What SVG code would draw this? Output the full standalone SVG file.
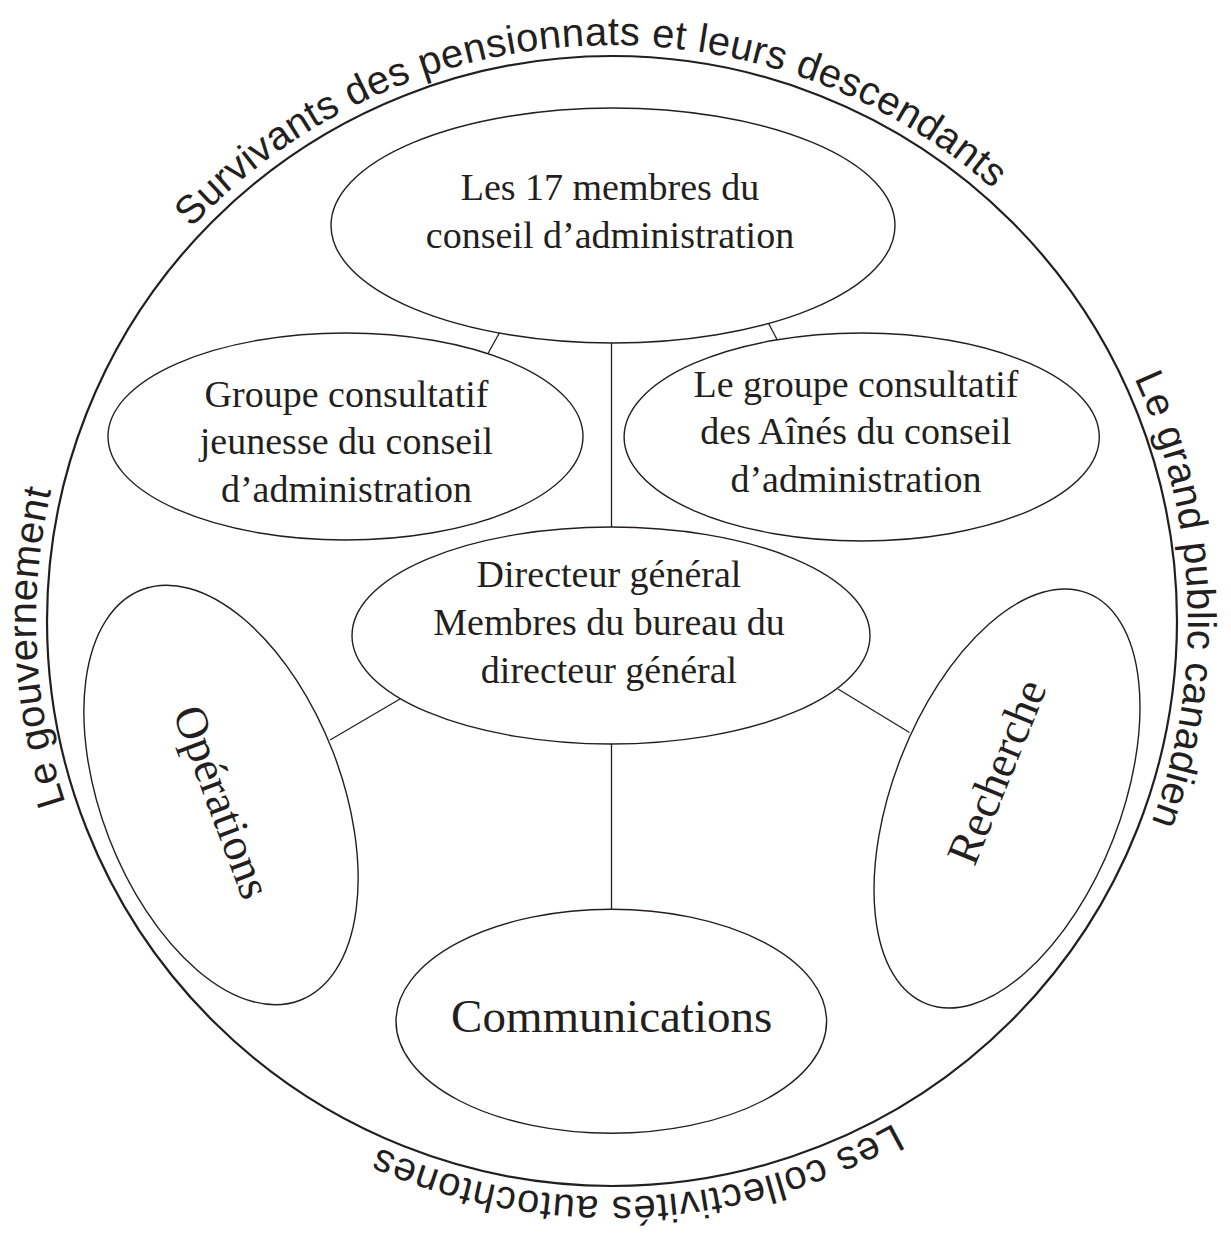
<svg xmlns="http://www.w3.org/2000/svg" width="1231" height="1233" viewBox="0 0 1231 1233">
<style>
.node ellipse{fill:none;stroke:#231f20;stroke-width:1.4}
.lbl{font-family:"Liberation Serif","Times New Roman",serif;font-size:38px;fill:#231f20;text-anchor:middle}
.big{font-size:46px}
.comm{font-size:47px}
.ring{font-family:"Liberation Sans",Arial,sans-serif;font-size:40px;fill:#231f20;letter-spacing:0.4px;text-anchor:middle}
.conn line{stroke:#231f20;stroke-width:1.3}
</style>
<defs>
<path id="ringPath" d="M 204.7 1028.3 A 576 576 0 0 1 1019.3 213.7 A 576 576 0 0 1 204.7 1028.3" fill="none"/>
</defs>
<rect width="1231" height="1233" fill="#ffffff"/>
<g id="outer">
<circle cx="612" cy="621" r="565" fill="none" stroke="#231f20" stroke-width="2.2"/>
<text class="ring"><textPath href="#ringPath" startOffset="426">Le gouvernement</textPath></text>
<text class="ring"><textPath href="#ringPath" startOffset="1329">Survivants des pensionnats et leurs descendants</textPath></text>
<text class="ring"><textPath href="#ringPath" startOffset="2239">Le grand public canadien</textPath></text>
<text class="ring" style="letter-spacing:0.9px"><textPath href="#ringPath" startOffset="3139">Les collectivités autochtones</textPath></text>
</g>
<g id="connectors" class="conn">
<line x1="499.6" y1="332.5" x2="488" y2="353.5"/>
<line x1="768.7" y1="323.8" x2="777.3" y2="340"/>
<line x1="611.5" y1="343" x2="611.5" y2="527"/>
<line x1="400" y1="699" x2="330" y2="740"/>
<line x1="838" y1="689" x2="909.5" y2="732.5"/>
<line x1="611.5" y1="744" x2="611.5" y2="909.5"/>
</g>
<g id="conseil" class="node">
<ellipse cx="613" cy="225.5" rx="282" ry="117.5"/>
<text class="lbl" x="610" y="200">Les 17 membres du</text>
<text class="lbl" x="610" y="248">conseil d’administration</text>
</g>
<g id="jeunesse" class="node">
<ellipse cx="345.5" cy="436.5" rx="237.5" ry="103.5"/>
<text class="lbl" x="346.5" y="406.5">Groupe consultatif</text>
<text class="lbl" x="346.5" y="454">jeunesse du conseil</text>
<text class="lbl" x="346.5" y="501.5">d’administration</text>
</g>
<g id="aines" class="node">
<ellipse cx="861.7" cy="437" rx="237.6" ry="104"/>
<text class="lbl" x="856" y="396.5">Le groupe consultatif</text>
<text class="lbl" x="856" y="444">des Aînés du conseil</text>
<text class="lbl" x="856" y="491.5">d’administration</text>
</g>
<g id="directeur" class="node">
<ellipse cx="611" cy="635.5" rx="259" ry="108.5"/>
<text class="lbl" x="609" y="587">Directeur général</text>
<text class="lbl" x="609" y="635">Membres du bureau du</text>
<text class="lbl" x="609" y="683">directeur général</text>
</g>
<g id="operations" class="node">
<ellipse cx="0" cy="0" rx="220" ry="120" transform="translate(221 795) rotate(68.9)"/>
<text class="lbl big" x="0" y="15" transform="translate(222 802) rotate(69.5)">Opérations</text>
</g>
<g id="recherche" class="node">
<ellipse cx="0" cy="0" rx="220.6" ry="113.7" transform="translate(1007 798.5) rotate(-68.6)"/>
<text class="lbl big" x="0" y="15" transform="translate(997 772) rotate(-68)">Recherche</text>
</g>
<g id="communications" class="node">
<ellipse cx="611.3" cy="1021.3" rx="215.3" ry="112"/>
<text class="lbl comm" x="611.7" y="1031.7">Communications</text>
</g>
</svg>
